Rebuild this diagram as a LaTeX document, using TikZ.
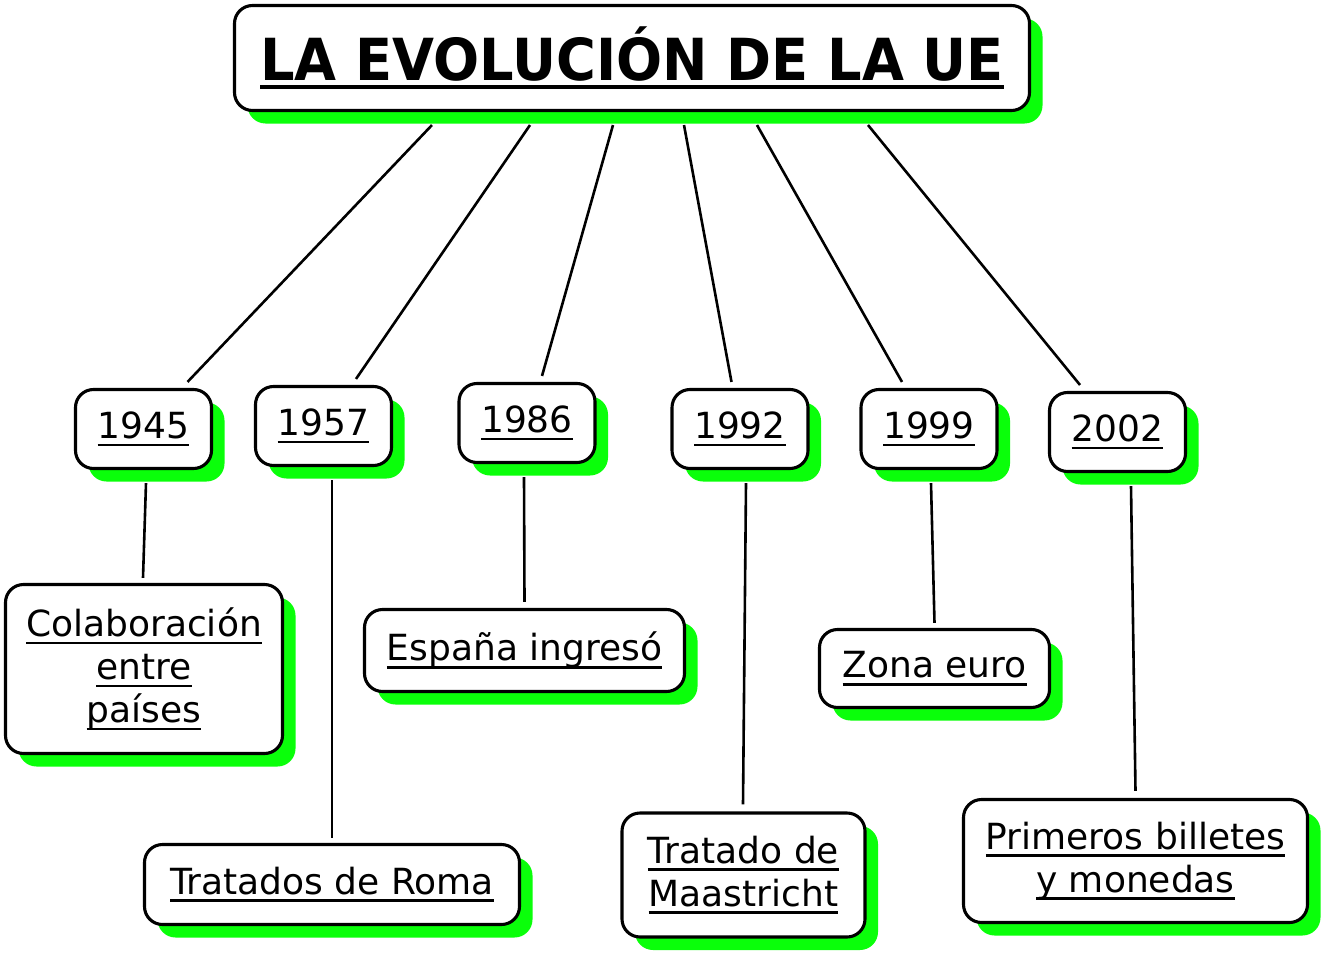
\documentclass[tikz,border=0pt]{standalone}
\usepackage{graphicx}
\usepackage{fontspec}
\setmainfont{DejaVu Sans}
\newlength{\rayaprof}
\setlength{\rayaprof}{8pt}
\newcommand{\rayagros}{2.8pt}
\newcommand{\raya}[1]{\setbox0\hbox{#1}\leavevmode\rlap{\rule[-\rayaprof]{\wd0}{\rayagros}}\box0}
\definecolor{verde}{RGB}{10,255,10}
\usetikzlibrary{shadows}

\tikzset{
  caja/.style={draw, line width=3.1pt, rounded corners=18pt, fill=white,
    inner sep=0pt, align=center, font=\fontsize{36}{43}\selectfont,
    general shadow={fill=verde, shadow xshift=13pt, shadow yshift=-13pt}},
  anio/.style={caja, minimum width=136pt, minimum height=79pt},
  linea/.style={line width=2.6pt},
}

\begin{document}
\begin{tikzpicture}[x=1pt,y=-1pt]
            \fill[white] (0,0) rectangle (1328,958);
            \useasboundingbox (0,0) rectangle (1328,958);

            \node[caja, minimum width=795pt, minimum height=105pt,
              font=\bfseries\fontsize{58}{70}\selectfont](title) at (632,58)
              {\scalebox{0.935}[1]{\renewcommand{\rayagros}{4pt}\raya{LA EVOLUCIÓN DE LA UE}}};

            \node[anio](y1945) at (143.5,429) {\raya{1945}};
            \node[anio](y1957) at (323.5,426) {\raya{1957}};
            \node[anio](y1986) at (527,423) {\raya{1986}};
            \node[anio](y1992) at (740,429) {\raya{1992}};
            \node[anio](y1999) at (929,429) {\raya{1999}};
            \node[anio](y2002) at (1117.5,432) {\raya{2002}};

            \node[caja, minimum width=277pt, minimum height=169pt](colab) at (144,669)
              {\raya{Colaboración}\\\raya{entre}\\\raya{países}};
            \node[caja, minimum width=375pt, minimum height=80pt](roma) at (332,884.5)
              {\raya{Tratados de Roma}};
            \node[caja, minimum width=320pt, minimum height=82pt](espana) at (524.5,650.5)
              {\raya{España ingresó}};
            \node[caja, minimum width=243pt, minimum height=124pt](maas) at (743.5,875)
              {\raya{Tratado de}\\\raya{Maastricht}};
            \node[caja, minimum width=230pt, minimum height=78pt](zona) at (934.5,668.5)
              {\raya{Zona euro}};
            \node[caja, minimum width=344pt, minimum height=123pt](billetes) at (1135.5,861)
              {\raya{Primeros billetes}\\\raya{y monedas}};

            \draw[linea] ([xshift=-200pt,yshift=-13pt]title.south) -- ([xshift=44pt,yshift=6pt]y1945.north);
            \draw[linea] ([xshift=-102pt,yshift=-13pt]title.south) -- ([xshift=32.5pt,yshift=6pt]y1957.north);
            \draw[linea] ([xshift=-19pt,yshift=-13pt]title.south) -- ([xshift=15pt,yshift=6pt]y1986.north);
            \draw[linea] ([xshift=52pt,yshift=-13pt]title.south) -- ([xshift=-8.5pt,yshift=6pt]y1992.north);
            \draw[linea] ([xshift=125pt,yshift=-13pt]title.south) -- ([xshift=-27pt,yshift=6pt]y1999.north);
            \draw[linea] ([xshift=236pt,yshift=-13pt]title.south) -- ([xshift=-37.5pt,yshift=6pt]y2002.north);

            \draw[linea] ([xshift=2.5pt,yshift=-13pt]y1945.south) -- ([xshift=-1pt,yshift=5pt]colab.north);
            \draw[linea] ([xshift=8.5pt,yshift=-13pt]y1957.south) -- ([yshift=5pt]roma.north);
            \draw[linea] ([xshift=-3pt,yshift=-13pt]y1986.south) -- ([yshift=6pt]espana.north);
            \draw[linea] ([xshift=6pt,yshift=-13pt]y1992.south) -- ([xshift=-0.5pt,yshift=7pt]maas.north);
            \draw[linea] ([xshift=2pt,yshift=-13pt]y1999.south) -- ([yshift=5pt]zona.north);
            \draw[linea] ([xshift=13.5pt,yshift=-13pt]y2002.south) -- ([yshift=7pt]billetes.north);
\end{tikzpicture}
\end{document}
